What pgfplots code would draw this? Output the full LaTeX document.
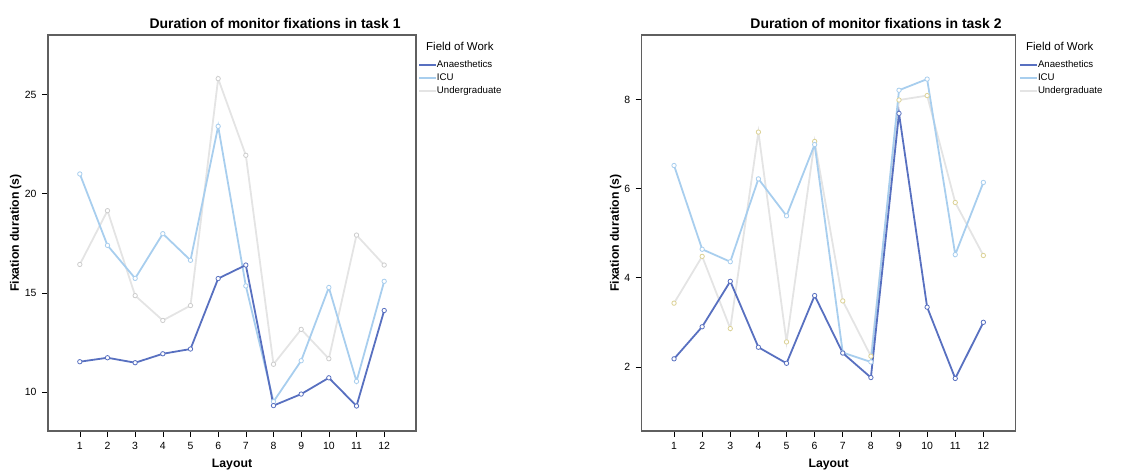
\documentclass[border=0pt]{standalone}
\usepackage{fontspec}
\setmainfont{Liberation Sans}
\usepackage{pgfplots}
\pgfplotsset{compat=1.18}
\definecolor{canae}{RGB}{88,112,192}
\definecolor{cicu}{RGB}{168,206,238}
\definecolor{cugr}{RGB}{228,228,228}
\definecolor{cugrm}{RGB}{220,210,150}
\definecolor{cugrl}{RGB}{205,205,205}
\definecolor{framec}{RGB}{95,95,95}

\pgfplotsset{
 mystyle/.style={
  scale only axis, anchor=south west,
  height=396bp, clip=false,
  axis line style={framec, line width=1.3bp},
  tick style={black, line width=0.6bp},
  tick align=outside, major tick length=6bp,
  tick pos=left,
  xtick={1,...,12}, xmin=-0.15, xmax=13.15,
  /pgf/number format/assume math mode=true,
  tick label style={font=\fontsize{10.5}{11}\selectfont},
  xticklabel style={yshift=-2bp},
  yticklabel style={xshift=-2bp},
  xlabel={Layout}, ylabel={Fixation duration (s)},
  label style={font=\bfseries\fontsize{12.3}{13}\selectfont},
  xlabel style={at={(axis description cs:0.5,-0.084)}, anchor=center},
  title style={font=\bfseries\fontsize{14}{15}\selectfont, anchor=center, yshift=0pt},
  legend cell align=left,
  legend style={draw=none, fill=none, anchor=north west, inner sep=0pt,
    font=\fontsize{9.7}{10}\selectfont, row sep=3.8bp,
    nodes={inner sep=0pt, text height=7bp, text depth=2bp},
    /tikz/every even column/.append style={column sep=2.7bp}},
  legend image code/.code={\draw[#1] (0bp,0bp) -- (17bp,0bp);},
  every axis plot/.append style={line width=1.8bp, mark=*, mark size=2.2bp},
 },
 sanae/.style={color=canae, mark options={fill=white, draw=canae, line width=0.8bp}},
 sicu/.style={color=cicu, mark options={fill=white, draw=cicu, line width=0.8bp}},
 sugr/.style={color=cugr, mark options={fill=white, draw=#1, line width=0.8bp}},
}

\begin{document}
\begin{tikzpicture}
\useasboundingbox (0,0) rectangle (1141bp,470bp);
\begin{axis}[mystyle, at={(48bp,39bp)}, width=368bp,
  ymin=8.05, ymax=28, ytick={10,15,20,25},
  title={Duration of monitor fixations in task 1},
  title style={at={(axis description cs:0.617,1.0146)}},
  ylabel style={at={(axis description cs:-0.088,0.5)}, anchor=center},
  legend style={at={(axis description cs:1.0054,0.9357)}}]
\addlegendimage{color=canae, line width=1.8bp}
\addlegendentry{Anaesthetics}
\addlegendimage{color=cicu, line width=1.8bp}
\addlegendentry{ICU}
\addlegendimage{color=cugr, line width=1.8bp}
\addlegendentry{Undergraduate}
\addplot[sugr=cugrl, forget plot] coordinates {(1,16.44)(2,19.15)(3,14.87)(4,13.62)(5,14.37)(6,25.8)(7,21.94)(8,11.41)(9,13.17)(10,11.69)(11,17.92)(12,16.41)};
\addplot[sicu, forget plot] coordinates {(1,21.0)(2,17.40)(3,15.74)(4,17.99)(5,16.65)(6,23.4)(7,15.36)(8,9.53)(9,11.59)(10,15.28)(11,10.55)(12,15.59)};
\addplot[sanae, forget plot] coordinates {(1,11.54)(2,11.74)(3,11.49)(4,11.94)(5,12.18)(6,15.73)(7,16.41)(8,9.33)(9,9.91)(10,10.73)(11,9.31)(12,14.12)};
\node[anchor=west, inner sep=0pt, font=\fontsize{11.5}{12}\selectfont] at (axis description cs:1.0272,0.972) {Field of Work};
\end{axis}
\begin{axis}[mystyle, at={(641.7bp,39bp)}, width=374bp,
  ymin=0.56, ymax=9.45, ytick={2,4,6,8},
  title={Duration of monitor fixations in task 2},
  title style={at={(axis description cs:0.6265,1.0146)}},
  ylabel style={at={(axis description cs:-0.0694,0.5)}, anchor=center},
  legend style={at={(axis description cs:1.0088,0.9357)}}]
\addlegendimage{color=canae, line width=1.8bp}
\addlegendentry{Anaesthetics}
\addlegendimage{color=cicu, line width=1.8bp}
\addlegendentry{ICU}
\addlegendimage{color=cugr, line width=1.8bp}
\addlegendentry{Undergraduate}
\addplot[sugr=cugrm, forget plot] coordinates {(1,3.43)(2,4.48)(3,2.86)(4,7.27)(5,2.56)(6,7.06)(7,3.48)(8,2.24)(9,7.99)(10,8.09)(11,5.69)(12,4.50)};
\addplot[sicu, forget plot] coordinates {(1,6.52)(2,4.64)(3,4.36)(4,6.22)(5,5.39)(6,6.99)(7,2.32)(8,2.11)(9,8.21)(10,8.46)(11,4.52)(12,6.14)};
\addplot[sanae, forget plot] coordinates {(1,2.18)(2,2.90)(3,3.92)(4,2.44)(5,2.08)(6,3.60)(7,2.31)(8,1.76)(9,7.69)(10,3.34)(11,1.74)(12,3.00)};
\node[anchor=west, inner sep=0pt, font=\fontsize{11.5}{12}\selectfont] at (axis description cs:1.0275,0.972) {Field of Work};
\end{axis}
\end{tikzpicture}
\end{document}
